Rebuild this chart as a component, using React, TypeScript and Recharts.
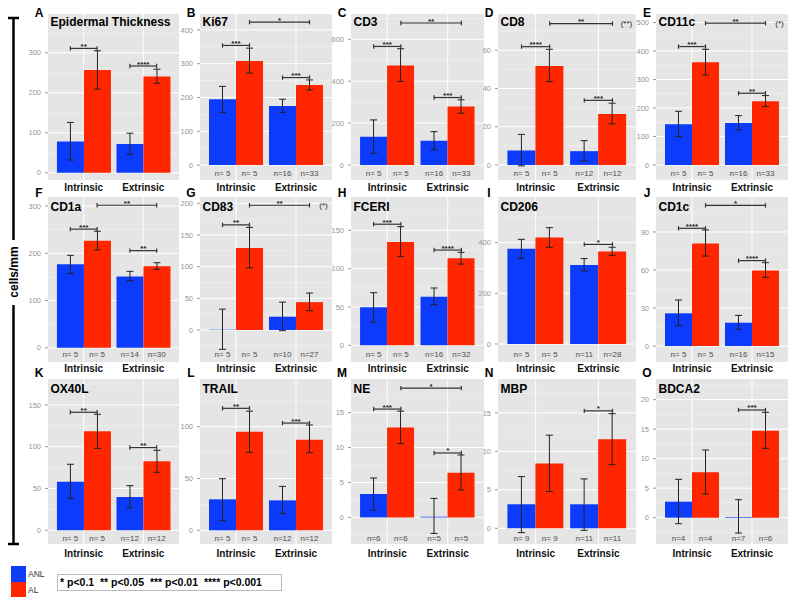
import React from 'react'
import {
  Bar,
  CartesianGrid,
  ComposedChart,
  ErrorBar,
  ReferenceLine,
  Scatter,
  XAxis,
  YAxis,
} from 'recharts'

const FONT = '"Liberation Sans", Arial, Helvetica, sans-serif'
const BLUE = '#0c3bfc'
const RED = '#ff2600'

const categories = ['Intrinsic', 'Extrinsic']
const panelLetters = ['A', 'B', 'C', 'D', 'E', 'F', 'G', 'H', 'I', 'J', 'K', 'L', 'M', 'N', 'O']
const panelTitles = [
  'Epidermal Thickness', 'Ki67', 'CD3', 'CD8', 'CD11c',
  'CD1a', 'CD83', 'FCERI', 'CD206', 'CD1c',
  'OX40L', 'TRAIL', 'NE', 'MBP', 'BDCA2',
]

// [intrinsic, extrinsic] per panel
const anlMeans = [
  [78, 72], [195, 175], [135, 116], [7.5, 7.2], [143, 147.5],
  [176.6, 151], [0.5, 21], [49.6, 63.5], [376, 312], [25.8, 18.4],
  [58.2, 39.9], [29.9, 28.9], [3.34, 0.1], [3.12, 3.12], [2.71, 0.11],
]
const alMeans = [
  [257, 241], [308, 237], [475, 279], [51.8, 26.7], [360.6, 223.6],
  [226.7, 172.3], [129.5, 44], [134.8, 113.5], [420, 364.5], [81, 59.7],
  [118.5, 82.6], [95.2, 87.5], [12.85, 6.4], [8.41, 11.57], [7.68, 14.75],
]
const anlLow = [
  [32, 46], [156, 156], [56, 72], [-0.5, 2.1], [99.5, 123],
  [157.5, 142], [-30.5, -1], [30.4, 53], [338, 288], [16, 13.2],
  [38.3, 27], [9.3, 16.4], [1.05, -2.29], [-0.56, -0.26], [-1.02, -2.6],
]
const anlHigh = [
  [126, 99], [233, 195], [215, 159], [16, 12.7], [188.5, 173.3],
  [195.6, 161.7], [33, 44], [68.7, 74.8], [413, 337], [36.3, 24.2],
  [79, 53.4], [49.8, 42.4], [5.64, 2.72], [6.72, 6.42], [6.5, 3.05],
]
const alLow = [
  [209, 224], [272, 222], [399, 247], [43.6, 21.5], [316, 205],
  [207, 166], [98.4, 30.5], [115.7, 106], [381.6, 350], [71, 54.2],
  [98, 69.4], [75.2, 74.9], [10.56, 3.92], [4.77, 8.28], [4.0, 11.75],
]
const alHigh = [
  [305, 259], [346, 252], [555, 311], [60.5, 32.3], [406, 243.6],
  [246.5, 180], [162, 58.4], [154.8, 121.3], [459, 381.6], [91.6, 65.8],
  [138.8, 95.7], [115, 101.6], [15.2, 8.93], [12.1, 14.9], [11.47, 17.85],
]

const nLabels = [
  null,
  ['n= 5', 'n= 5', 'n=16', 'n=33'],
  ['n= 5', 'n= 5', 'n=16', 'n=33'],
  ['n= 5', 'n= 5', 'n=12', 'n=12'],
  ['n= 5', 'n= 5', 'n=16', 'n=33'],
  ['n= 5', 'n= 5', 'n=14', 'n=30'],
  ['n= 5', 'n= 5', 'n=10', 'n=27'],
  ['n= 5', 'n= 5', 'n=16', 'n=32'],
  ['n= 5', 'n= 5', 'n=11', 'n=28'],
  ['n= 5', 'n= 5', 'n=16', 'n=15'],
  ['n= 5', 'n= 5', 'n=12', 'n=12'],
  ['n= 5', 'n= 5', 'n=12', 'n=12'],
  ['n=6', 'n=6', 'n=5', 'n=5'],
  ['n= 9', 'n= 9', 'n=11', 'n=11'],
  ['n=4', 'n=4', 'n=7', 'n=6'],
]

const yTicks = [
  [0, 100, 200, 300], [0, 100, 200, 300, 400], [0, 200, 400, 600], [0, 20, 40, 60], [0, 100, 200, 300, 400, 500],
  [0, 100, 200, 300], [0, 50, 100, 150, 200], [0, 50, 100, 150], [0, 200, 400], [0, 30, 60, 90],
  [0, 50, 100, 150], [0, 50, 100], [0, 5, 10, 15], [0, 5, 10, 15], [0, 5, 10, 15, 20],
]
const yDomains = [
  [-18, 397], [-44, 447], [-72, 721], [-7.9, 79], [-52.7, 530],
  [-30, 319], [-50.5, 210], [-21.7, 193.5], [-71, 580], [-12.6, 117.6],
  [-16.4, 181], [-13.2, 146], [-3.8, 19.8], [-2.04, 19.4], [-4.46, 23.5],
]

// significance brackets: [y value, stars]
const intrinsicSig: any[] = [
  [311, '**'], [354, '***'], [566, '***'], [61.9, '****'], [415.7, '***'],
  [251, '***'], [166, '**'], [158, '***'], null, [92.9, '****'],
  [141.2, '**'], [117.7, '**'], [15.5, '***'], null, null,
]
const extrinsicSig: any[] = [
  [267, '****'], [259, '***'], [322, '***'], [33.8, '***'], [251.8, '**'],
  [205.5, '**'], null, [124.3, '****'], [393, '*'], [67.4, '****'],
  [99, '**'], [103.5, '***'], [9.22, '*'], [15.26, '*'], [18.25, '***'],
]
const acrossSig: any[] = [
  null, [423, '*'], [678, '**'], [74, '**'], [497.7, '**'],
  [301.5, '**'], [197, '**'], null, null, [111, '*'],
  null, null, [18.5, '*'], null, null,
]
const acrossNote = [
  '', '', '', '(**)', '(*)',
  '', '(*)', '', '', '',
  '', '', '', '', '',
]

// layout
const colLeft = [48, 200, 351, 498, 656]
const colRight = [179, 332, 484, 636, 788]
const rowTop = [14, 197, 379]
const rowBottom = [180, 362, 544]
const letterY = [12.5, 193, 373]
const titleY = [22, 207, 389]
const catLabelDy = [7, 6, 9]
const nLabelDy = [-7, -8, -6]
const AXIS_W = 34
const DODGE = 0.225
const barSlots = [1 - DODGE, 1 + DODGE, 2 - DODGE, 2 + DODGE]

const bracketShape = (stars: string, note?: string) => (p: any) => {
  const { x1, y1, x2, y2 } = p
  return (
    <g>
      <line x1={x1} y1={y1} x2={x2} y2={y2} stroke="#333" strokeWidth={1.2} />
      <line x1={x1} y1={y1 - 2.2} x2={x1} y2={y1 + 2.2} stroke="#333" strokeWidth={1.2} />
      <line x1={x2} y1={y2 - 2.2} x2={x2} y2={y2 + 2.2} stroke="#333" strokeWidth={1.2} />
      <text x={(x1 + x2) / 2} y={y1 + 0.5} textAnchor="middle" fontSize={8} fontWeight="bold" fill="#222">
        {stars}
      </text>
      {note ? (
        <text x={x2 + 14} y={y1 + 2.5} textAnchor="middle" fontSize={8} fill="#222">
          {note}
        </text>
      ) : null}
    </g>
  )
}

function Panel({ i }: { i: number }) {
  const col = i % 5
  const row = Math.floor(i / 5)
  const left = colLeft[col]
  const width = colRight[col] - left
  const top = rowTop[row]
  const height = rowBottom[row] - top
  const [lo, hi] = yDomains[i]
  const major = yTicks[i]
  const step = major[1] - major[0]
  const minor: number[] = []
  for (let k = Math.floor(lo / step) - 1; k <= Math.ceil(hi / step); k++) {
    const v = (k + 0.5) * step
    if (v > lo && v < hi) minor.push(v)
  }

  const data = categories.map((cat, k) => ({
    cat,
    pos: k + 1,
    anl: anlMeans[i][k],
    al: alMeans[i][k],
    anlErr: [anlMeans[i][k] - anlLow[i][k], anlHigh[i][k] - anlMeans[i][k]],
    alErr: [alMeans[i][k] - alLow[i][k], alHigh[i][k] - alMeans[i][k]],
  }))
  const labels = nLabels[i]
  const nData = labels ? labels.map((n, j) => ({ pos: barSlots[j], y: lo, n })) : []
  const pad = width / 22

  const intr = intrinsicSig[i]
  const extr = extrinsicSig[i]
  const acr = acrossSig[i]

  return (
    <>
      <div style={{ position: 'absolute', left: left - AXIS_W, top }}>
        <ComposedChart
          width={AXIS_W + width}
          height={height + 22}
          data={data}
          margin={{ top: 0, right: 0, bottom: 0, left: 0 }}
          barGap={0}
          barCategoryGap="5%"
        >
          <CartesianGrid
            xAxisId="num"
            fill="#e5e5e5"
            vertical={false}
            horizontalValues={minor}
            stroke="#f3f3f3"
            strokeWidth={0.6}
          />
          <CartesianGrid
            xAxisId="num"
            horizontalValues={major}
            verticalValues={[1, 2]}
            stroke="#ffffff"
            strokeWidth={1}
          />
          <XAxis
            xAxisId="cat"
            dataKey="cat"
            type="category"
            interval={0}
            padding={{ left: pad, right: pad }}
            axisLine={false}
            tickLine={false}
            tickSize={0}
            tickMargin={0}
            height={22}
            tick={(p: any) => (
              <text
                x={p.x}
                y={p.y + catLabelDy[row]}
                textAnchor="middle"
                dominantBaseline="central"
                fontSize={10}
                fontWeight="bold"
                fill="#111"
              >
                {p.payload.value}
              </text>
            )}
          />
          <XAxis xAxisId="num" dataKey="pos" type="number" domain={[0.4, 2.6]} allowDataOverflow hide />
          <YAxis
            type="number"
            domain={[lo, hi]}
            ticks={major}
            allowDataOverflow
            width={AXIS_W}
            axisLine={false}
            tickSize={3}
            tickMargin={4}
            tickLine={{ stroke: '#999' }}
            tick={{ fontSize: 7.5, fill: '#959595', fontFamily: FONT }}
          />
          <Bar xAxisId="cat" dataKey="anl" fill={BLUE} isAnimationActive={false}>
            <ErrorBar dataKey="anlErr" width={3.5} stroke="#222" strokeWidth={1} direction="y" isAnimationActive={false} />
          </Bar>
          <Bar xAxisId="cat" dataKey="al" fill={RED} isAnimationActive={false}>
            <ErrorBar dataKey="alErr" width={3.5} stroke="#222" strokeWidth={1} direction="y" isAnimationActive={false} />
          </Bar>
          {labels ? (
            <Scatter
              xAxisId="num"
              data={nData}
              dataKey="y"
              isAnimationActive={false}
              shape={(p: any) => (
                <text
                  x={p.cx}
                  y={p.cy + nLabelDy[row]}
                  textAnchor="middle"
                  dominantBaseline="central"
                  fontSize={8}
                  fill="#4d4d4d"
                >
                  {p.payload.n}
                </text>
              )}
            />
          ) : null}
          {intr ? (
            <ReferenceLine
              xAxisId="num"
              segment={[{ x: barSlots[0], y: intr[0] }, { x: barSlots[1], y: intr[0] }]}
              shape={bracketShape(intr[1])}
            />
          ) : null}
          {extr ? (
            <ReferenceLine
              xAxisId="num"
              segment={[{ x: barSlots[2], y: extr[0] }, { x: barSlots[3], y: extr[0] }]}
              shape={bracketShape(extr[1])}
            />
          ) : null}
          {acr ? (
            <ReferenceLine
              xAxisId="num"
              segment={[{ x: barSlots[1], y: acr[0] }, { x: barSlots[3], y: acr[0] }]}
              shape={bracketShape(acr[1], acrossNote[i])}
            />
          ) : null}
        </ComposedChart>
      </div>
      <div
        style={{
          position: 'absolute',
          left: left - 9,
          top: letterY[row],
          transform: 'translate(-50%, -50%)',
          fontSize: 12,
          fontWeight: 'bold',
          lineHeight: 1,
        }}
      >
        {panelLetters[i]}
      </div>
      <div
        style={{
          position: 'absolute',
          left: left + 2.5,
          top: titleY[row],
          transform: 'translateY(-50%)',
          fontSize: 12,
          fontWeight: 'bold',
          lineHeight: 1,
          whiteSpace: 'nowrap',
        }}
      >
        {panelTitles[i]}
      </div>
    </>
  )
}

export default function App() {
  return (
    <div
      style={{
        position: 'absolute',
        left: 0,
        top: 0,
        width: 799,
        height: 607,
        background: '#fff',
        fontFamily: FONT,
        color: '#000',
        overflow: 'hidden',
      }}
    >
      <svg style={{ position: 'absolute', left: 0, top: 0 }} width={30} height={607}>
        <line x1={13.5} y1={17} x2={13.5} y2={240} stroke="#000" strokeWidth={2.5} />
        <line x1={13.5} y1={305} x2={13.5} y2={545} stroke="#000" strokeWidth={2.5} />
        <line x1={8} y1={18} x2={19} y2={18} stroke="#000" strokeWidth={2.5} />
        <line x1={8} y1={544} x2={19} y2={544} stroke="#000" strokeWidth={2.5} />
        <text
          x={14}
          y={272}
          transform="rotate(-90 14 272)"
          textAnchor="middle"
          dominantBaseline="central"
          fontWeight="bold"
          fontSize={12}
          fontFamily={FONT}
        >
          cells/mm
        </text>
      </svg>

      {panelTitles.map((_, i) => (
        <Panel key={i} i={i} />
      ))}

      <div style={{ position: 'absolute', left: 11, top: 566, width: 15, height: 16, background: BLUE }} />
      <div style={{ position: 'absolute', left: 11, top: 582, width: 15, height: 15, background: RED }} />
      <div style={{ position: 'absolute', left: 28, top: 574, transform: 'translateY(-50%)', fontSize: 8.5, color: '#333', lineHeight: 1 }}>
        ANL
      </div>
      <div style={{ position: 'absolute', left: 28, top: 590, transform: 'translateY(-50%)', fontSize: 8.5, color: '#333', lineHeight: 1 }}>
        AL
      </div>
      <div
        style={{
          position: 'absolute',
          left: 57,
          top: 574,
          width: 221,
          height: 15,
          border: '1px solid #bbb',
          fontSize: 10.5,
          fontWeight: 'bold',
          lineHeight: '15px',
          paddingLeft: 2,
          whiteSpace: 'pre',
        }}
      >
        {'* p<0.1  ** p<0.05  *** p<0.01  **** p<0.001'}
      </div>
    </div>
  )
}
